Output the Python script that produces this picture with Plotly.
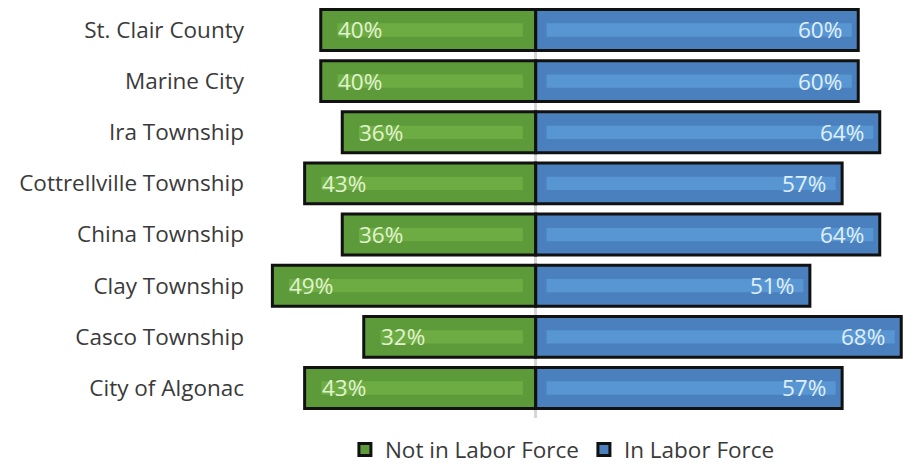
import plotly.graph_objects as go

categories = ["St. Clair County", "Marine City", "Ira Township", "Cottrellville Township",
              "China Township", "Clay Township", "Casco Township", "City of Algonac"]
not_in_labor = [40, 40, 36, 43, 36, 49, 32, 43]
in_labor = [60, 60, 64, 57, 64, 51, 68, 57]

GREEN = "#5d9a39"
GREEN_HI = "#6dac43"
BLUE = "#4a80bd"
BLUE_HI = "#5796d2"
FONT = "Open Sans"
FS = 22.5

fig = go.Figure()

fig.add_trace(go.Bar(
    y=categories, x=[-v for v in not_in_labor], orientation="h",
    name="Not in Labor Force", marker=dict(color=GREEN, line=dict(color="#111111", width=3)),
    hoverinfo="skip", width=0.8,
))
fig.add_trace(go.Bar(
    y=categories, x=in_labor, orientation="h",
    name="In Labor Force", marker=dict(color=BLUE, line=dict(color="#111111", width=3)),
    hoverinfo="skip", width=0.8,
))
# lighter inner stripes
fig.add_trace(go.Bar(
    y=categories, x=[-(v - 5.5) for v in not_in_labor], base=[-2.4] * len(categories),
    orientation="h", marker=dict(color=GREEN_HI, line=dict(width=0)),
    width=0.26, showlegend=False, hoverinfo="skip",
))
fig.add_trace(go.Bar(
    y=categories, x=[v - 3.2 for v in in_labor], base=[2.0] * len(categories),
    orientation="h", marker=dict(color=BLUE_HI, line=dict(width=0)),
    width=0.26, showlegend=False, hoverinfo="skip",
))

annotations = []
for c, v in zip(categories, not_in_labor):
    annotations.append(dict(x=-v, y=c, xref="x", yref="y", text=f"{v}%", showarrow=False,
                            xanchor="left", xshift=15,
                            font=dict(family=FONT, size=FS, color="#e2f3d0")))
for c, v in zip(categories, in_labor):
    annotations.append(dict(x=v, y=c, xref="x", yref="y", text=f"{v}%", showarrow=False,
                            xanchor="right", xshift=-14,
                            font=dict(family=FONT, size=FS, color="#e0effb")))

fig.update_layout(
    width=905, height=456,
    margin=dict(l=259, r=1, t=0, b=46, autoexpand=False),
    barmode="overlay",
    plot_bgcolor="white", paper_bgcolor="white",
    font=dict(family=FONT, size=FS, color="#3a3a3a"),
    xaxis=dict(range=[-50, 70], showgrid=False, showticklabels=False, zeroline=True,
               zerolinecolor="#d6d6d6", zerolinewidth=3, layer="above traces",
               fixedrange=True, automargin=False),
    yaxis=dict(categoryorder="array", categoryarray=categories, range=[7.587, -0.43],
               showgrid=False, ticks="", ticklabelstandoff=22, automargin=False,
               tickfont=dict(family=FONT, size=FS, color="#3a3a3a")),
    legend=dict(orientation="h", x=0.458, xanchor="center", y=-0.078, yanchor="middle",
                font=dict(family=FONT, size=FS, color="#3a3a3a"), traceorder="normal",
                bgcolor="rgba(0,0,0,0)"),
    annotations=annotations,
    showlegend=True,
)

fig.write_html("out.html")
